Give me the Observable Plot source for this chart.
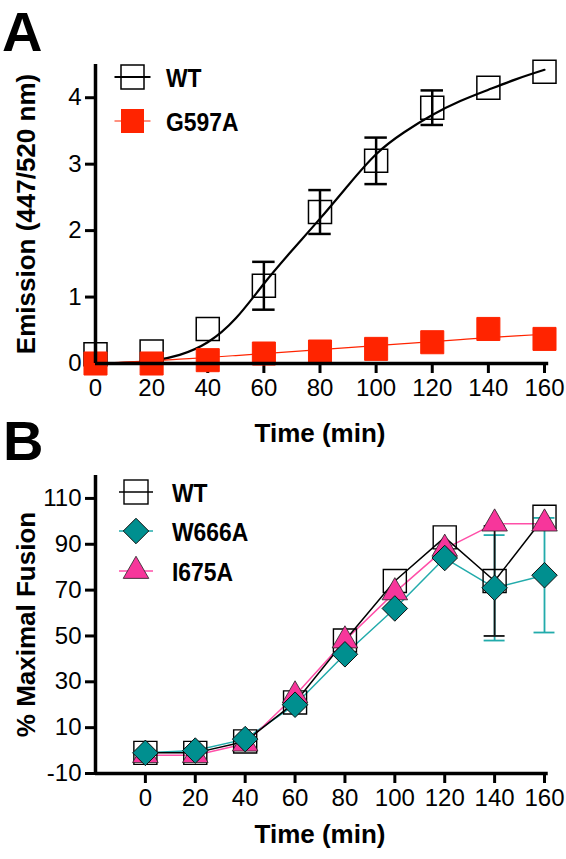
<!DOCTYPE html>
<html>
<head>
<meta charset="utf-8">
<script src="https://cdn.jsdelivr.net/npm/d3@7"></script>
<script src="https://cdn.jsdelivr.net/npm/@observablehq/plot@0.6"></script>
<style>
  html, body { margin: 0; padding: 0; background: #fff; }
  #fig { position: relative; width: 566px; height: 859px; overflow: hidden;
         font-family: "Liberation Sans", Arial, Helvetica, sans-serif; }
  .panel { position: absolute; left: 0; }
  #overlay { position: absolute; left: 0; top: 0; pointer-events: none; }
</style>
</head>
<body>
<div id="fig">
  <div id="panelA" class="panel" style="top:0px"></div>
  <div id="panelB" class="panel" style="top:455px"></div>
</div>
<script>
// ---------- data ----------
const times = [0, 20, 40, 60, 80, 100, 120, 140, 160];
const xTickLabels = [0, 20, 40, 60, 80, 100, 120, 140, 160];

// Panel A: emission ratio
const wtA      = [0.14, 0.18, 0.52, 1.17, 2.28, 3.05, 3.85, 4.15, 4.39];
const wtAErr   = [0, 0, 0, 0.36, 0.33, 0.35, 0.26, 0, 0];
const g597A    = [0.0, 0.0, 0.05, 0.15, 0.18, 0.22, 0.32, 0.52, 0.37];
const fitTimes = [0, 10, 20, 30, 40, 50, 60, 70, 80, 90, 100, 110, 120, 130, 140, 150, 160];
const wtFit    = [0.0, 0.01, 0.04, 0.13, 0.32, 0.68, 1.2, 1.7, 2.18, 2.68, 3.15, 3.48, 3.74, 3.95, 4.12, 4.28, 4.42];
const g597Fit  = [0.0, 0.02, 0.04, 0.065, 0.09, 0.12, 0.15, 0.18, 0.21, 0.24, 0.27, 0.3, 0.33, 0.36, 0.39, 0.415, 0.44];
const yTicksA  = [0, 1, 2, 3, 4];

// Panel B: % maximal fusion
const wtB      = [-1, -1, 4, 21, 48, 74, 93, 74, 102];
const wtBErr   = [0, 0, 0, 0, 0, 0, 0, 24, 0];
const w666A    = [-1, 0, 5, 20, 42, 62, 84, 71, 76.5];
const w666AErr = [0, 0, 0, 0, 0, 0, 0, 23, 25];
const i675A    = [-2, -2, 3, 24, 48, 69, 88, 99, 99];
const yTicksB  = [-10, 10, 30, 50, 70, 90, 110];

const labelsA = ["WT", "G597A"];
const labelsB = ["WT", "W666A", "I675A"];

// ---------- styling ----------
const FONT = '"Liberation Sans", Arial, Helvetica, sans-serif';
const RED = "#ff2400";
const TEAL = "#008f8f";
const TEAL_LINE = "#22abab";
const PINK = "#f7369b";
const PINK_LINE = "#ff4fa8";

const rows = (xs, ys, es) => xs.map((t, i) => ({t, v: ys[i], e: es ? es[i] : 0}));

const A_wt = rows(times, wtA, wtAErr);
const A_g = rows(times, g597A);
const A_wtFit = rows(fitTimes, wtFit);
const A_gFit = rows(fitTimes, g597Fit);

const B_wt = rows(times, wtB, wtBErr);
const B_w = rows(times, w666A, w666AErr);
const B_i = rows(times, i675A);

function errorMarks(data, stroke, sw, capHalf) {
  const d = data.filter(r => r.e > 0);
  return [
    Plot.ruleX(d, {x: "t", y1: r => r.v - r.e, y2: r => r.v + r.e, stroke, strokeWidth: sw}),
    Plot.ruleY(d, {y: r => r.v + r.e, x1: r => r.t - capHalf, x2: r => r.t + capHalf, stroke, strokeWidth: sw}),
    Plot.ruleY(d, {y: r => r.v - r.e, x1: r => r.t - capHalf, x2: r => r.t + capHalf, stroke, strokeWidth: sw})
  ];
}

const axisStyle = {tickSize: 10, strokeWidth: 3, fontSize: 24, stroke: "black", fill: "black", label: null, tickFormat: d => String(d)};

// ---------- Panel A ----------
const plotA = Plot.plot({
  width: 566, height: 455,
  marginLeft: 95, marginRight: 22, marginTop: 64, marginBottom: 92,
  x: {domain: [0, 160]},
  y: {domain: [0, 4.5]},
  style: {fontFamily: FONT, fontSize: "24px", color: "black", background: "transparent", overflow: "visible"},
  marks: [
    Plot.axisX(xTickLabels, {...axisStyle, tickPadding: 5}),
    Plot.axisY(yTicksA, {...axisStyle, tickPadding: 4}),
    Plot.line(A_wtFit, {x: "t", y: "v", stroke: "black", strokeWidth: 2.2, curve: "natural"}),
    Plot.line(A_gFit, {x: "t", y: "v", stroke: RED, strokeWidth: 1.2, curve: "natural"}),
    ...errorMarks(A_wt, "black", 2.5, 4),
    Plot.dot(A_wt, {x: "t", y: "v", symbol: "square", r: 13, fill: "none", stroke: "black", strokeWidth: 1.5}),
    Plot.dot(A_g, {x: "t", y: "v", symbol: "square", r: 13, fill: RED, stroke: RED, strokeWidth: 1}),
    Plot.ruleX([0], {stroke: "black", strokeWidth: 3.5}),
    Plot.ruleY([0], {x1: 0, x2: 161.5, stroke: "black", strokeWidth: 3.5}),
    Plot.text(["Time (min)"], {frameAnchor: "bottom", dy: 70, textAnchor: "middle", lineAnchor: "middle", fontSize: 26, fontWeight: "bold", fill: "black"}),
    Plot.text(["Emission (447/520 nm)"], {frameAnchor: "left", dx: -69, rotate: -90, textAnchor: "middle", lineAnchor: "middle", fontSize: 26, fontWeight: "bold", fill: "black"})
  ]
});
document.getElementById("panelA").appendChild(plotA);

// ---------- Panel B ----------
const plotB = Plot.plot({
  width: 566, height: 404,
  marginLeft: 95, marginRight: 22, marginTop: 20, marginBottom: 86,
  x: {domain: [-20, 160]},
  y: {domain: [-10, 120]},
  style: {fontFamily: FONT, fontSize: "24px", color: "black", background: "transparent", overflow: "visible"},
  marks: [
    Plot.axisX(xTickLabels, {...axisStyle, tickPadding: 5}),
    Plot.axisY(yTicksB, {...axisStyle, tickPadding: 4}),
    Plot.line(B_w, {x: "t", y: "v", stroke: TEAL_LINE, strokeWidth: 1.5}),
    Plot.line(B_i, {x: "t", y: "v", stroke: PINK_LINE, strokeWidth: 1.5}),
    Plot.line(B_wt, {x: "t", y: "v", stroke: "black", strokeWidth: 1.5}),
    ...errorMarks(B_w, TEAL_LINE, 1.8, 4.2),
    ...errorMarks(B_wt, "#111", 1.8, 4.2),
    Plot.dot(B_wt, {x: "t", y: "v", symbol: "square", r: 13, fill: "none", stroke: "black", strokeWidth: 1.4}),
    Plot.dot(B_i, {x: "t", y: "v", symbol: "triangle", r: 9.5, fill: PINK, stroke: "#222", strokeWidth: 0.8}),
    Plot.dot(B_w, {x: "t", y: "v", symbol: "diamond2", r: 11.5, fill: TEAL, stroke: "#111", strokeWidth: 1}),
    Plot.ruleX([-20], {stroke: "black", strokeWidth: 3.5}),
    Plot.ruleY([-10], {x1: -20, x2: 161.5, stroke: "black", strokeWidth: 3.5}),
    Plot.text(["Time (min)"], {frameAnchor: "bottom", dy: 61, textAnchor: "middle", lineAnchor: "middle", fontSize: 26, fontWeight: "bold", fill: "black"}),
    Plot.text(["% Maximal Fusion"], {frameAnchor: "left", dx: -69, rotate: -90, textAnchor: "middle", lineAnchor: "middle", fontSize: 26, fontWeight: "bold", fill: "black"})
  ]
});
document.getElementById("panelB").appendChild(plotB);

// ---------- panel letters & legends (overlay) ----------
const svg = d3.select("#fig").append("svg")
  .attr("id", "overlay").attr("width", 566).attr("height", 859)
  .style("font-family", FONT);

svg.append("text").attr("x", 2).attr("y", 51).attr("font-size", 56).attr("font-weight", "bold").text("A");
svg.append("text").attr("x", 3).attr("y", 460).attr("font-size", 56).attr("font-weight", "bold").text("B");

function legendText(x, cy, label) {
  svg.append("text")
    .attr("transform", `translate(${x},${cy + 9.5}) scale(0.88,1)`)
    .attr("font-size", 26).attr("font-weight", "bold").text(label);
}

// Legend A
{
  const cx = 132.5, rowsY = [77, 121];
  svg.append("line").attr("x1", cx - 18).attr("x2", cx + 18).attr("y1", rowsY[0]).attr("y2", rowsY[0]).attr("stroke", "black").attr("stroke-width", 2);
  svg.append("rect").attr("x", cx - 11.5).attr("y", rowsY[0] - 12).attr("width", 23).attr("height", 24).attr("fill", "none").attr("stroke", "black").attr("stroke-width", 1.5);
  legendText(166, rowsY[0], labelsA[0]);
  svg.append("line").attr("x1", cx - 18).attr("x2", cx + 18).attr("y1", rowsY[1]).attr("y2", rowsY[1]).attr("stroke", RED).attr("stroke-width", 1.2);
  svg.append("rect").attr("x", cx - 11.5).attr("y", rowsY[1] - 12).attr("width", 23).attr("height", 24).attr("fill", RED);
  legendText(166, rowsY[1], labelsA[1]);
}

// Legend B
{
  const cx = 136, rowsY = [492, 531, 571];
  svg.append("line").attr("x1", cx - 17).attr("x2", cx + 17).attr("y1", rowsY[0]).attr("y2", rowsY[0]).attr("stroke", "black").attr("stroke-width", 1.5);
  svg.append("rect").attr("x", cx - 12).attr("y", rowsY[0] - 12).attr("width", 24).attr("height", 24).attr("fill", "none").attr("stroke", "black").attr("stroke-width", 1.4);
  legendText(172, rowsY[0], labelsB[0]);

  svg.append("line").attr("x1", cx - 17).attr("x2", cx + 17).attr("y1", rowsY[1]).attr("y2", rowsY[1]).attr("stroke", TEAL_LINE).attr("stroke-width", 1.5);
  svg.append("path").attr("d", d3.symbol(d3.symbolDiamond2, Math.PI * 11.5 * 11.5)()).attr("transform", `translate(${cx},${rowsY[1]})`).attr("fill", TEAL).attr("stroke", "#111").attr("stroke-width", 1);
  legendText(172, rowsY[1], labelsB[1]);

  svg.append("line").attr("x1", cx - 17).attr("x2", cx + 17).attr("y1", rowsY[2]).attr("y2", rowsY[2]).attr("stroke", PINK_LINE).attr("stroke-width", 1.5);
  svg.append("path").attr("d", d3.symbol(d3.symbolTriangle, Math.PI * 9.5 * 9.5)()).attr("transform", `translate(${cx},${rowsY[2]})`).attr("fill", PINK).attr("stroke", "#222").attr("stroke-width", 0.8);
  legendText(172, rowsY[2], labelsB[2]);
}
</script>
</body>
</html>
